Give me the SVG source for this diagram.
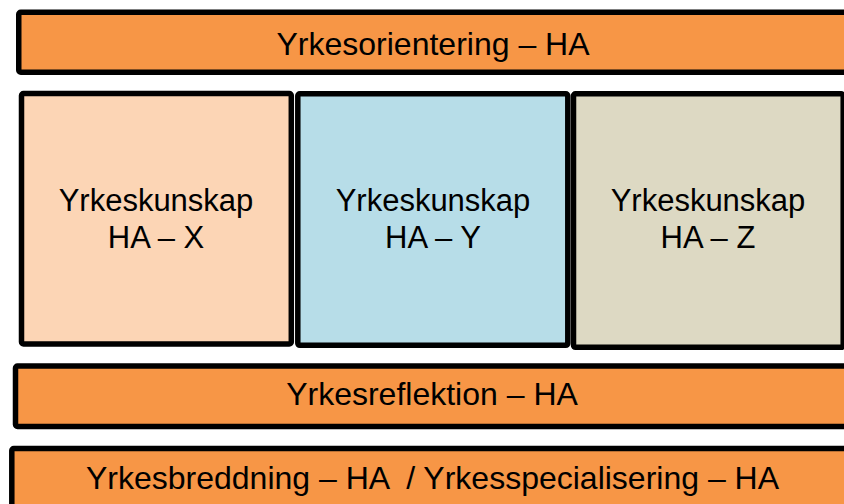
<svg xmlns="http://www.w3.org/2000/svg" width="844" height="504" viewBox="0 0 844 504">
  <style>
    .box { stroke: #000; stroke-width: 5.5; stroke-linejoin: round; }
    .bar { fill: #F79646; }
    .t { font-family: "Liberation Sans", Arial, sans-serif; fill: #000; text-anchor: middle; }
    .tb { font-size: 32px; }
    .tn { font-size: 31px; }
  </style>
  <rect width="844" height="504" fill="#fff"/>
  <g id="yrkesorientering">
    <rect class="box bar" x="18.75" y="12.25" width="840" height="60" rx="2"/>
    <text class="t tb" x="433" y="55">Yrkesorientering – HA</text>
  </g>
  <g id="yrkeskunskap-x">
    <rect class="box" fill="#FCD5B5" x="21.5" y="93.5" width="269.8" height="250.4" rx="2"/>
    <text class="t tn" x="156" y="211">Yrkeskunskap</text>
    <text class="t tn" x="156" y="248">HA – X</text>
  </g>
  <g id="yrkeskunskap-y">
    <rect class="box" fill="#B7DDE8" x="297.8" y="93.8" width="270" height="251.5" rx="2"/>
    <text class="t tn" x="433" y="211">Yrkeskunskap</text>
    <text class="t tn" x="433" y="248">HA – Y</text>
  </g>
  <g id="yrkeskunskap-z">
    <rect class="box" fill="#DDD9C3" x="573.5" y="93.8" width="269.7" height="253.5" rx="2"/>
    <text class="t tn" x="708" y="211">Yrkeskunskap</text>
    <text class="t tn" x="708" y="248">HA – Z</text>
  </g>
  <g id="yrkesreflektion">
    <rect class="box bar" x="15.5" y="366" width="840" height="60.5" rx="2"/>
    <text class="t tb" x="432" y="405">Yrkesreflektion – HA</text>
  </g>
  <g id="yrkesbreddning">
    <rect class="box bar" x="11.8" y="448.5" width="850" height="70" rx="2"/>
    <text class="t tb" x="432.5" y="489" xml:space="preserve">Yrkesbreddning – HA  / Yrkesspecialisering – HA</text>
  </g>
  <g id="connectors"/>
</svg>
